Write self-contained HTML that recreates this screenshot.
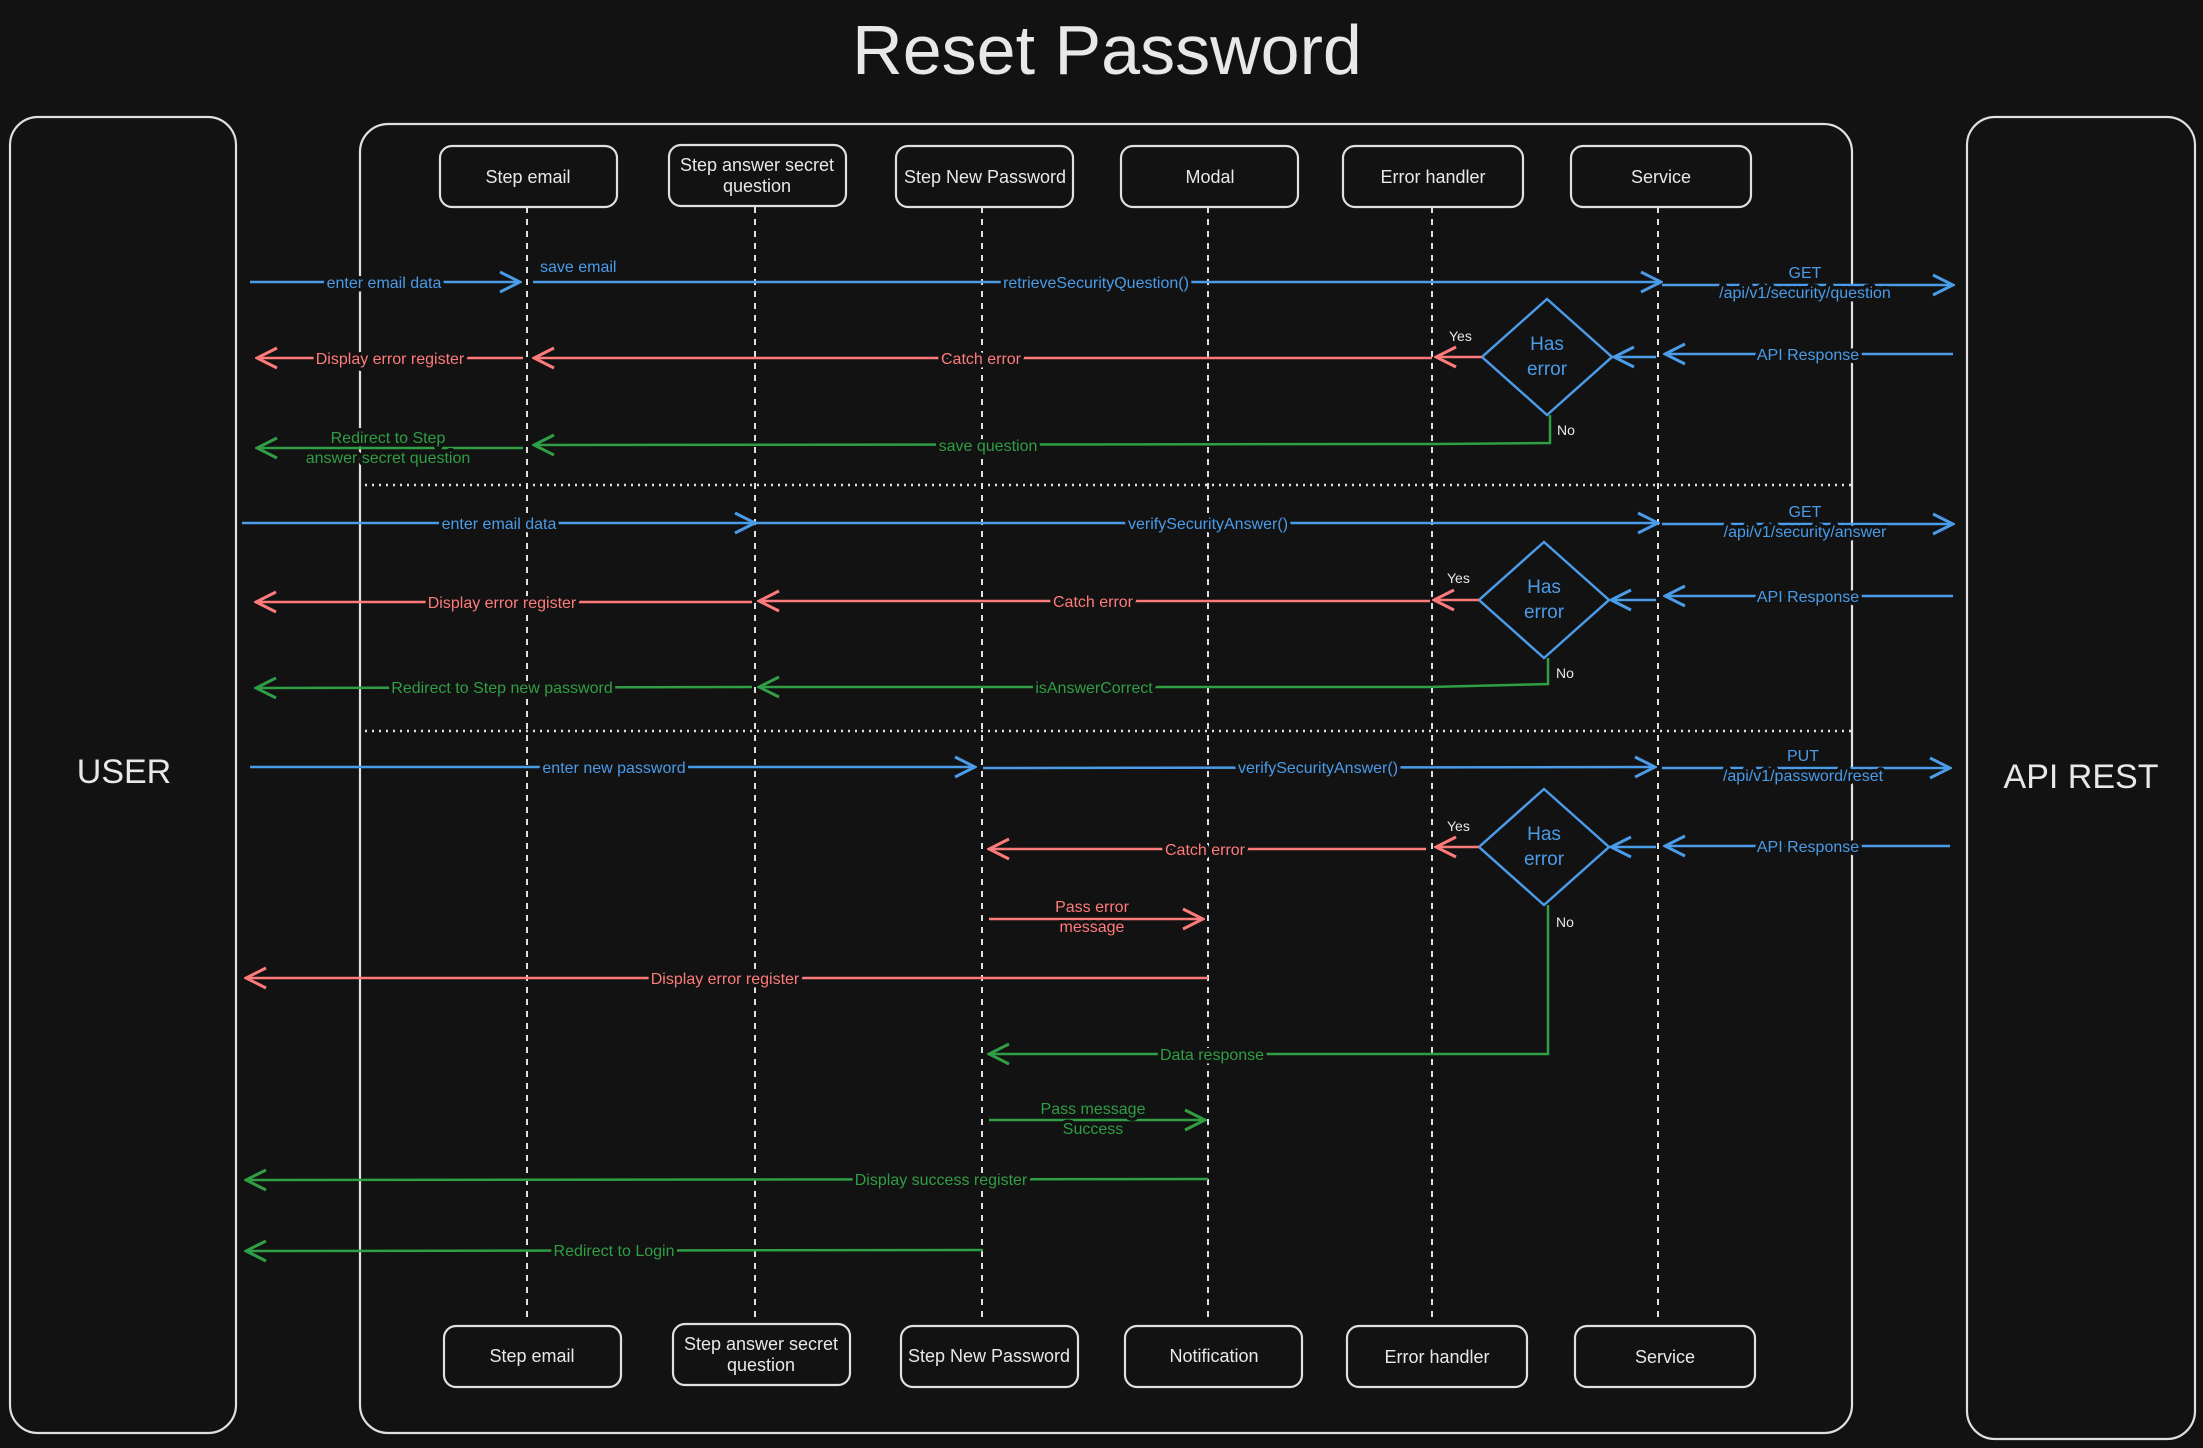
<!DOCTYPE html>
<html><head><meta charset="utf-8"><style>
html,body{margin:0;padding:0;background:#121212;}
svg{display:block;}
text{font-family:"Liberation Sans",sans-serif;}
.lb{font-size:16px;text-anchor:middle;paint-order:stroke;stroke:#121212;stroke-width:7px;stroke-linejoin:round;}
.b{fill:#4a9be8}.r{fill:#ff7b7b}.g{fill:#2f9e44}
.bx{fill:none;stroke:#e0e0e0;stroke-width:2.2}
.bt{fill:#e8e8e8;font-size:18px;text-anchor:middle}
.ll{stroke:#e0e0e0;stroke-width:2;stroke-dasharray:6 6}
.sep{stroke:#e0e0e0;stroke-width:2.5;stroke-dasharray:2 5}
.lb2{fill:#4a9be8;stroke:#4a9be8;stroke-width:2.5;fill-opacity:0}
.ab{stroke:#4a9be8;stroke-width:2.5;fill:none}
.ar{stroke:#ff7b7b;stroke-width:2.5;fill:none}
.ag{stroke:#2f9e44;stroke-width:2.5;fill:none}
.yn{fill:#e8e8e8;font-size:14px}
</style></head><body>
<svg width="2203" height="1448" viewBox="0 0 2203 1448" xmlns="http://www.w3.org/2000/svg">
<defs>
<marker id="mb" viewBox="0 0 24 24" refX="22" refY="12" markerWidth="24" markerHeight="24" orient="auto" markerUnits="userSpaceOnUse"><path d="M2,2 L22,12 L2,22" fill="none" stroke="#4a9be8" stroke-width="3"/></marker>
<marker id="mr" viewBox="0 0 24 24" refX="22" refY="12" markerWidth="24" markerHeight="24" orient="auto" markerUnits="userSpaceOnUse"><path d="M2,2 L22,12 L2,22" fill="none" stroke="#ff7b7b" stroke-width="3"/></marker>
<marker id="mg" viewBox="0 0 24 24" refX="22" refY="12" markerWidth="24" markerHeight="24" orient="auto" markerUnits="userSpaceOnUse"><path d="M2,2 L22,12 L2,22" fill="none" stroke="#2f9e44" stroke-width="3"/></marker>
</defs>
<rect width="2203" height="1448" fill="#121212"/>
<text x="1107" y="74" font-size="70" fill="#e8e8e8" text-anchor="middle">Reset Password</text>

<rect x="10" y="117" width="226" height="1316" rx="28" class="bx"/>
<rect x="360" y="124" width="1492" height="1309" rx="28" class="bx"/>
<rect x="1967" y="117" width="228" height="1322" rx="28" class="bx"/>
<text x="124" y="783" font-size="34" fill="#e8e8e8" text-anchor="middle">USER</text>
<text x="2081" y="788" font-size="34" fill="#e8e8e8" text-anchor="middle">API REST</text>

<!-- lifelines -->
<line x1="527" y1="207" x2="527" y2="1318" class="ll"/>
<line x1="755" y1="207" x2="755" y2="1318" class="ll"/>
<line x1="982" y1="207" x2="982" y2="1318" class="ll"/>
<line x1="1208" y1="207" x2="1208" y2="1318" class="ll"/>
<line x1="1432" y1="207" x2="1432" y2="1318" class="ll"/>
<line x1="1658" y1="207" x2="1658" y2="1318" class="ll"/>

<!-- top boxes -->
<rect x="440" y="146" width="177" height="61" rx="12" fill="#121212" class="bx"/><text x="528" y="183" class="bt">Step email</text>
<rect x="669" y="145" width="177" height="61" rx="12" fill="#121212" class="bx"/><text x="757" y="171" class="bt">Step answer secret</text><text x="757" y="192" class="bt">question</text>
<rect x="896" y="146" width="177" height="61" rx="12" fill="#121212" class="bx"/><text x="985" y="183" class="bt">Step New Password</text>
<rect x="1121" y="146" width="177" height="61" rx="12" fill="#121212" class="bx"/><text x="1210" y="183" class="bt" font-size="20">Modal</text>
<rect x="1343" y="146" width="180" height="61" rx="12" fill="#121212" class="bx"/><text x="1433" y="183" class="bt" font-size="20">Error handler</text>
<rect x="1571" y="146" width="180" height="61" rx="12" fill="#121212" class="bx"/><text x="1661" y="183" class="bt" font-size="20">Service</text>

<!-- bottom boxes -->
<rect x="444" y="1326" width="177" height="61" rx="12" fill="#121212" class="bx"/><text x="532" y="1362" class="bt">Step email</text>
<rect x="673" y="1324" width="177" height="61" rx="12" fill="#121212" class="bx"/><text x="761" y="1350" class="bt">Step answer secret</text><text x="761" y="1371" class="bt">question</text>
<rect x="901" y="1326" width="177" height="61" rx="12" fill="#121212" class="bx"/><text x="989" y="1362" class="bt">Step New Password</text>
<rect x="1125" y="1326" width="177" height="61" rx="12" fill="#121212" class="bx"/><text x="1214" y="1362" class="bt">Notification</text>
<rect x="1347" y="1326" width="180" height="61" rx="12" fill="#121212" class="bx"/><text x="1437" y="1363" class="bt" font-size="20">Error handler</text>
<rect x="1575" y="1326" width="180" height="61" rx="12" fill="#121212" class="bx"/><text x="1665" y="1363" class="bt" font-size="20">Service</text>

<!-- separators -->
<line x1="365" y1="485" x2="1852" y2="485" class="sep"/>
<line x1="365" y1="731" x2="1852" y2="731" class="sep"/>

<!-- Section 1 -->
<line x1="250" y1="282" x2="520" y2="282" class="ab" marker-end="url(#mb)"/>
<text x="384" y="288" class="lb b">enter email data</text>
<line x1="533" y1="282" x2="1661" y2="282" class="ab" marker-end="url(#mb)"/>
<text x="1096" y="288" class="lb b">retrieveSecurityQuestion()</text>
<text x="540" y="272" font-size="16" class="b">save email</text>
<line x1="1662" y1="285" x2="1953" y2="285" class="ab" marker-end="url(#mb)"/>
<text x="1805" y="278" class="lb b">GET</text><text x="1805" y="298" class="lb b">/api/v1/security/question</text>
<polygon points="1547,299 1612,357 1547,415 1482,357" fill="none" stroke="#4a9be8" stroke-width="2.5"/>
<text x="1547" y="350" font-size="19" class="b" text-anchor="middle">Has</text><text x="1547" y="375" font-size="19" class="b" text-anchor="middle">error</text>
<line x1="1953" y1="354" x2="1665" y2="354" class="ab" marker-end="url(#mb)"/>
<text x="1808" y="360" class="lb b">API Response</text>
<line x1="1656" y1="357" x2="1614" y2="357" class="ab" marker-end="url(#mb)"/>
<line x1="1482" y1="357" x2="1436" y2="357" class="ar" marker-end="url(#mr)"/>
<text x="1449" y="341" class="yn">Yes</text>
<line x1="1432" y1="358" x2="534" y2="358" class="ar" marker-end="url(#mr)"/>
<text x="981" y="364" class="lb r">Catch error</text>
<line x1="523" y1="358" x2="257" y2="358" class="ar" marker-end="url(#mr)"/>
<text x="390" y="364" class="lb r">Display error register</text>
<polyline points="1550,415 1550,443 1436,444 534,445" class="ag" marker-end="url(#mg)"/>
<text x="988" y="451" class="lb g">save question</text>
<text x="1557" y="435" class="yn">No</text>
<line x1="523" y1="448" x2="257" y2="448" class="ag" marker-end="url(#mg)"/>
<text x="388" y="443" class="lb g">Redirect to Step</text><text x="388" y="463" class="lb g">answer secret question</text>

<!-- Section 2 -->
<line x1="242" y1="523" x2="755" y2="523" class="ab" marker-end="url(#mb)"/>
<text x="499" y="529" class="lb b">enter email data</text>
<line x1="755" y1="523" x2="1658" y2="523" class="ab" marker-end="url(#mb)"/>
<text x="1208" y="529" class="lb b">verifySecurityAnswer()</text>
<line x1="1662" y1="524" x2="1953" y2="524" class="ab" marker-end="url(#mb)"/>
<text x="1805" y="517" class="lb b">GET</text><text x="1805" y="537" class="lb b">/api/v1/security/answer</text>
<polygon points="1544,542 1609,600 1544,658 1479,600" fill="none" stroke="#4a9be8" stroke-width="2.5"/>
<text x="1544" y="593" font-size="19" class="b" text-anchor="middle">Has</text><text x="1544" y="618" font-size="19" class="b" text-anchor="middle">error</text>
<line x1="1953" y1="596" x2="1665" y2="596" class="ab" marker-end="url(#mb)"/>
<text x="1808" y="602" class="lb b">API Response</text>
<line x1="1656" y1="600" x2="1611" y2="600" class="ab" marker-end="url(#mb)"/>
<line x1="1479" y1="600" x2="1434" y2="600" class="ar" marker-end="url(#mr)"/>
<text x="1447" y="583" class="yn">Yes</text>
<line x1="1430" y1="601" x2="759" y2="601" class="ar" marker-end="url(#mr)"/>
<text x="1093" y="607" class="lb r">Catch error</text>
<line x1="752" y1="602" x2="256" y2="602" class="ar" marker-end="url(#mr)"/>
<text x="502" y="608" class="lb r">Display error register</text>
<polyline points="1548,658 1548,684 1430,687 759,687" class="ag" marker-end="url(#mg)"/>
<text x="1094" y="693" class="lb g">isAnswerCorrect</text>
<text x="1556" y="678" class="yn">No</text>
<line x1="752" y1="687" x2="256" y2="688" class="ag" marker-end="url(#mg)"/>
<text x="502" y="693" class="lb g">Redirect to Step new password</text>

<!-- Section 3 -->
<line x1="250" y1="767" x2="975" y2="767" class="ab" marker-end="url(#mb)"/>
<text x="614" y="773" class="lb b">enter new password</text>
<line x1="983" y1="768" x2="1655" y2="767" class="ab" marker-end="url(#mb)"/>
<text x="1318" y="773" class="lb b">verifySecurityAnswer()</text>
<line x1="1662" y1="768" x2="1950" y2="768" class="ab" marker-end="url(#mb)"/>
<text x="1803" y="761" class="lb b">PUT</text><text x="1803" y="781" class="lb b">/api/v1/password/reset</text>
<polygon points="1544,789 1609,847 1544,905 1479,847" fill="none" stroke="#4a9be8" stroke-width="2.5"/>
<text x="1544" y="840" font-size="19" class="b" text-anchor="middle">Has</text><text x="1544" y="865" font-size="19" class="b" text-anchor="middle">error</text>
<line x1="1950" y1="846" x2="1665" y2="846" class="ab" marker-end="url(#mb)"/>
<text x="1808" y="852" class="lb b">API Response</text>
<line x1="1656" y1="847" x2="1611" y2="847" class="ab" marker-end="url(#mb)"/>
<line x1="1479" y1="847" x2="1436" y2="847" class="ar" marker-end="url(#mr)"/>
<text x="1447" y="831" class="yn">Yes</text>
<line x1="1426" y1="849" x2="989" y2="849" class="ar" marker-end="url(#mr)"/>
<text x="1205" y="855" class="lb r">Catch error</text>
<line x1="989" y1="919" x2="1203" y2="919" class="ar" marker-end="url(#mr)"/>
<text x="1092" y="912" class="lb r">Pass error</text><text x="1092" y="932" class="lb r">message</text>
<line x1="1208" y1="978" x2="246" y2="978" class="ar" marker-end="url(#mr)"/>
<text x="725" y="984" class="lb r">Display error register</text>
<polyline points="1548,905 1548,1054 989,1054" class="ag" marker-end="url(#mg)"/>
<text x="1212" y="1060" class="lb g">Data response</text>
<text x="1556" y="927" class="yn">No</text>
<line x1="989" y1="1120" x2="1205" y2="1120" class="ag" marker-end="url(#mg)"/>
<text x="1093" y="1114" class="lb g">Pass message</text><text x="1093" y="1134" class="lb g">Success</text>
<line x1="1208" y1="1179" x2="246" y2="1180" class="ag" marker-end="url(#mg)"/>
<text x="941" y="1185" class="lb g">Display success register</text>
<line x1="983" y1="1250" x2="246" y2="1251" class="ag" marker-end="url(#mg)"/>
<text x="614" y="1256" class="lb g">Redirect to Login</text>
</svg>
</body></html>
